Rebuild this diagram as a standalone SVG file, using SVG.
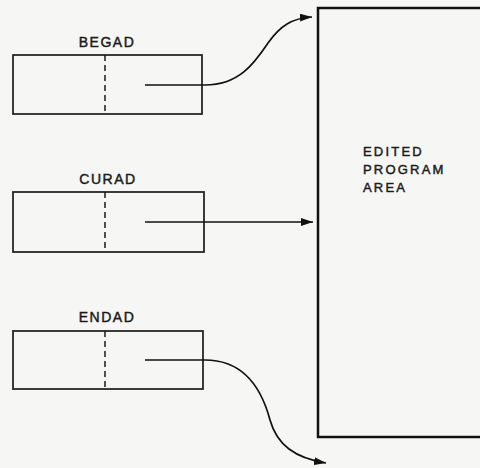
<svg xmlns="http://www.w3.org/2000/svg" width="480" height="468" viewBox="0 0 480 468">
<defs>
<marker id="ah" viewBox="0 0 12 8" refX="12" refY="4" markerWidth="12" markerHeight="8" markerUnits="userSpaceOnUse" orient="auto">
<path d="M0,0 L12,4 L0,8 Z" fill="#111"/>
</marker>
<style>
.box{fill:none;stroke:#1a1a1a;stroke-width:1.7}
.dash{stroke:#1a1a1a;stroke-width:1.5;stroke-dasharray:6,4}
.lbl{font-family:"Liberation Sans",Arial,sans-serif;font-size:14px;fill:#1a1a1a;stroke:#1a1a1a;stroke-width:0.45;letter-spacing:1.5px}
.big{font-size:13px;letter-spacing:2.2px}
.con{fill:none;stroke:#111;stroke-width:1.7;marker-end:url(#ah)}
</style>
</defs>
<rect width="480" height="468" fill="#f6f6f4"/>
<g id="area">
<rect x="318" y="8" width="180" height="429" fill="none" stroke="#111" stroke-width="2.5"/>
<text class="lbl big" x="363" y="156">EDITED</text>
<text class="lbl big" x="363" y="174">PROGRAM</text>
<text class="lbl big" x="363" y="192">AREA</text>
</g>
<g id="begad">
<text class="lbl" x="107" y="46.5" text-anchor="middle">BEGAD</text>
<rect class="box" x="13" y="55" width="189" height="59"/>
<line class="dash" x1="105" y1="55" x2="105" y2="114"/>
</g>
<g id="curad">
<text class="lbl" x="108" y="184" text-anchor="middle">CURAD</text>
<rect class="box" x="13" y="192" width="191" height="60"/>
<line class="dash" x1="105" y1="192" x2="105" y2="252"/>
</g>
<g id="endad">
<text class="lbl" x="107" y="322" text-anchor="middle">ENDAD</text>
<rect class="box" x="13" y="331" width="190" height="58"/>
<line class="dash" x1="105" y1="331" x2="105" y2="389"/>
</g>
<g id="connectors">
<path class="con" d="M145,85 H205 C240,85 255,62 268,43 C280,26 292,18 312,17"/>
<path class="con" d="M145,222 H313"/>
<path class="con" d="M145,360 H205 C245,360 262,390 270,420 C277,445 295,458 326,463"/>
</g>
</svg>
